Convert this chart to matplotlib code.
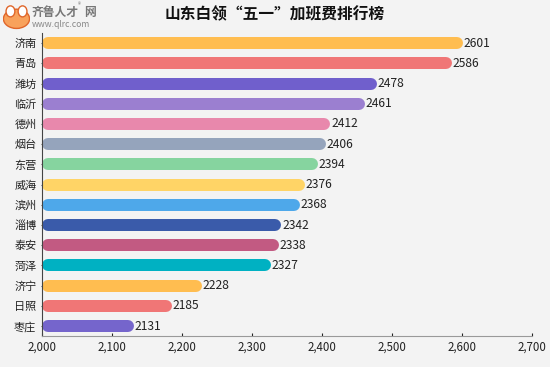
import matplotlib.pyplot as plt
from matplotlib.ticker import FuncFormatter
from matplotlib.patches import Ellipse

plt.rcParams['font.family'] = ['Noto Sans CJK SC', 'DejaVu Sans']

cities = ['济南', '青岛', '潍坊', '临沂', '德州', '烟台', '东营', '威海',
          '滨州', '淄博', '泰安', '菏泽', '济宁', '日照', '枣庄']
wages = [2601, 2586, 2478, 2461, 2412, 2406, 2394, 2376,
         2368, 2342, 2338, 2327, 2228, 2185, 2131]
colors = ['#FFBD50', '#F07676', '#705FCC', '#9B7FD0', '#E888AC', '#95A4BC',
          '#86D49F', '#FFD466', '#4EA8EA', '#3A5BAA', '#C25A82', '#00B1C2',
          '#FFBD50', '#F07676', '#7565CC']
xticks = [2000, 2100, 2200, 2300, 2400, 2500, 2600, 2700]

bg = '#F3F3F3'
fig = plt.figure(figsize=(5.5, 3.67), dpi=100, facecolor=bg)
ax = fig.add_axes([0.0764, 0.084, 0.891, 0.826], facecolor=bg)
ax.set_xlim(2000, 2700)
ax.set_ylim(14.5, -0.5)

# rounded bars: thick lines with round caps, pulled in by half the line width
lw_px = 12
px_per_unit = 0.891 * 550 / 700
pad = lw_px / 2 / px_per_unit
for i, (v, c) in enumerate(zip(wages, colors)):
    ax.plot([2000 + pad, v - pad], [i, i], color=c, lw=lw_px * 0.72,
            solid_capstyle='round')
    ax.text(v + 1, i, str(v), va='center', ha='left', fontsize=8.7, color='#222222')

ax.set_yticks(range(len(cities)))
ax.set_yticklabels(cities, fontsize=8, color='#222222')
ax.set_xticks(xticks)
ax.xaxis.set_major_formatter(FuncFormatter(lambda x, p: f'{int(x):,}'))
ax.tick_params(axis='x', labelsize=8.3, colors='#222222', length=2, direction='in', pad=3)
ax.tick_params(axis='y', length=2, direction='inout', pad=3, colors='#555555')
for t in ax.get_yticklabels():
    t.set_color('#222222')

for s in ['top', 'right']:
    ax.spines[s].set_visible(False)
ax.spines['left'].set_color('#444444')
ax.spines['bottom'].set_color('#999999')

fig.text(0.5, 0.962, '山东白领“五一”加班费排行榜', ha='center', va='center',
         fontsize=11.3, fontweight='bold', color='#111111')

# logo
logo = fig.add_axes([0.005, 0.915, 0.05, 0.075])
logo.set_xlim(0, 1)
logo.set_ylim(0, 1)
logo.axis('off')
logo.add_patch(Ellipse((0.5, 0.45), 0.95, 0.7, facecolor='#F8A25C',
                       edgecolor='#E0662A', lw=1))
logo.add_patch(Ellipse((0.28, 0.72), 0.32, 0.4, facecolor='white',
                       edgecolor='#E0662A', lw=1))
logo.add_patch(Ellipse((0.72, 0.72), 0.32, 0.4, facecolor='white',
                       edgecolor='#E0662A', lw=1))
fig.text(0.058, 0.967, '齐鲁人才', ha='left', va='center', fontsize=8.5,
         fontweight='bold', color='#777777')
fig.text(0.153, 0.967, '网', ha='left', va='center', fontsize=8.5,
         fontweight='bold', color='#777777')
fig.text(0.141, 0.985, '®', ha='left', va='center', fontsize=4.5, color='#777777')
fig.text(0.058, 0.933, 'www.qlrc.com', ha='left', va='center', fontsize=6.2,
         color='#888888')

fig.savefig('out.png', dpi=100, facecolor=bg)
